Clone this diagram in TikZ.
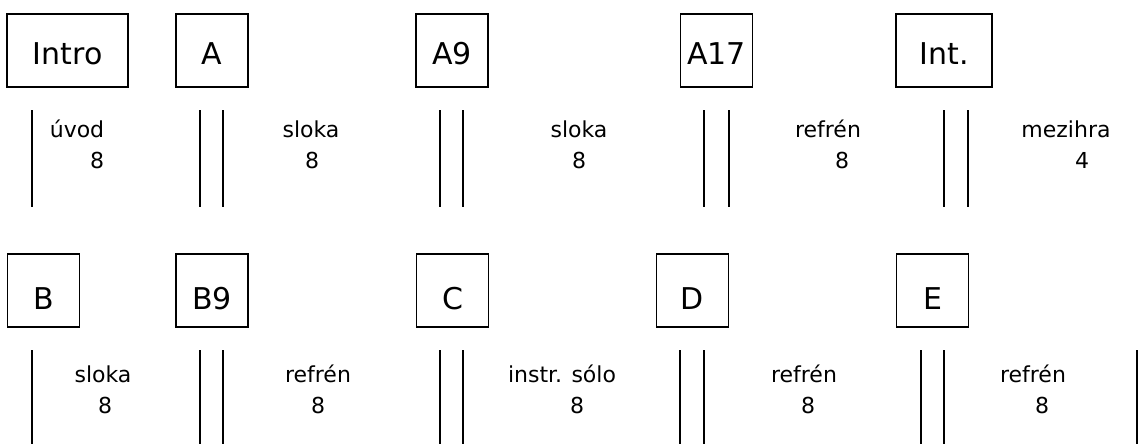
\documentclass[tikz,border=0pt]{standalone}
\usepackage{fontspec}
\setmainfont{DejaVu Sans}
\usetikzlibrary{positioning}

\begin{document}
\begin{tikzpicture}[
    x=1pt, y=-1pt,
    box/.style={rectangle, draw, line width=1.4pt, minimum width=72pt, minimum height=73pt, inner sep=0pt, text height=29pt, text depth=0pt, font=\fontsize{30}{30}\selectfont},
    part/.style={anchor=base, inner sep=0pt, font=\fontsize{22}{22}\selectfont},
    bar/.style={line width=1.4pt}
]
\useasboundingbox (0,0) rectangle (1148,444);

% Row 1 boxes
\node[box, minimum width=121pt] (intro) at (67.5,50.5) {Intro};
\node[box] (a) at (212,50.5) {A};
\node[box] (a9) at (452,50.5) {A9};
\node[box] (a17) at (716.5,50.5) {A17};
\node[box, minimum width=96pt] (int) at (944,50.5) {Int.};

% Row 1 parts
\node[part] (uvod) at (77,137) {úvod};
\node[part] (uvodlen) at (97,168) {8};
\node[part] (slokaA) at (311,137) {sloka};
\node[part] (slokaAlen) at (312,168) {8};
\node[part] (slokaAnine) at (579,137) {sloka};
\node[part] (slokaAninelen) at (579,168) {8};
\node[part] (refrenA) at (828,137) {refrén};
\node[part] (refrenAlen) at (842,168) {8};
\node[part] (mezihra) at (1066,137) {mezihra};
\node[part] (mezihralen) at (1082,168) {4};

% Row 1 bars
\foreach \x in {32,200,223,440,463,704,729,944,968}
    \draw[bar] (\x,110) -- (\x,207);

% Row 2 boxes
\node[box, text height=37pt] (b) at (43.5,290.5) {B};
\node[box, text height=37pt] (b9) at (212,290.5) {B9};
\node[box, text height=37pt] (c) at (452.5,290.5) {C};
\node[box, text height=37pt] (d) at (692.5,290.5) {D};
\node[box, text height=37pt] (e) at (932.5,290.5) {E};

% Row 2 parts
\node[part] (slokaB) at (103,382) {sloka};
\node[part] (slokaBlen) at (105,413) {8};
\node[part] (refrenB) at (318,382) {refrén};
\node[part] (refrenBlen) at (318,413) {8};
\node[part] (solo) at (562,382) {instr. sólo};
\node[part] (sololen) at (577,413) {8};
\node[part] (refrenD) at (804,382) {refrén};
\node[part] (refrenDlen) at (808,413) {8};
\node[part] (refrenE) at (1033,382) {refrén};
\node[part] (refrenElen) at (1042,413) {8};

% Row 2 bars
\foreach \x in {32,200,223,440,463,680,704,921,944,1137}
    \draw[bar] (\x,350) -- (\x,444);

\end{tikzpicture}
\end{document}
